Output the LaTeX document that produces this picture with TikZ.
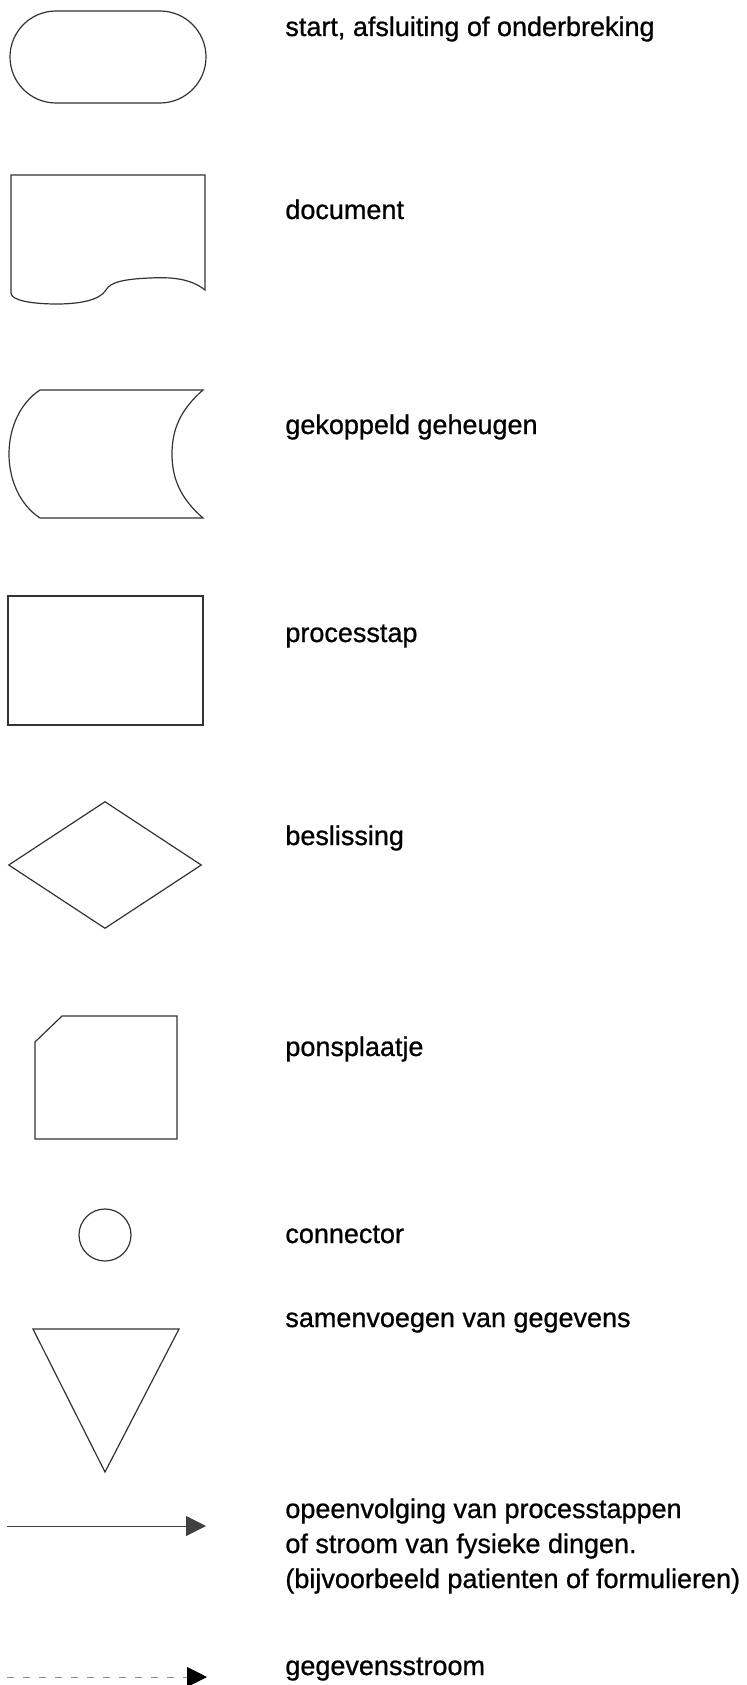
\documentclass[tikz,border=0pt]{standalone}
\usepackage{fontspec}
\setmainfont{Liberation Sans}
\newfontfamily\lblfont{Liberation Sans}[FakeBold=0.8]
\usetikzlibrary{arrows.meta,positioning,shapes.geometric,shapes.misc}
\tikzset{
	sym/.style={draw=black!80, line width=0.6pt},
	lbl/.style={anchor=base west, inner sep=0pt, font=\lblfont\fontsize{13.5}{17.5}\selectfont, align=left},
	flow/.style={-{Triangle[length=10pt, width=10pt]}, draw=black!75, line width=0.5pt},
	dataflow/.style={-{Triangle[length=10pt, width=10pt, color=black]}, draw=black!45, line width=0.5pt, dash pattern=on 3.5pt off 4.5pt}
}

\begin{document}
\begin{tikzpicture}[x=0.5pt, y=-0.5pt]
	\useasboundingbox (0,0) rectangle (746,1685);
	% symbols
	\node[sym, rounded rectangle, minimum width=98pt, minimum height=46pt, inner sep=0pt] (term) at (108,57) {};
	\draw[sym] (11,175) -- (205,175) -- (205,290)
		.. controls (190,278) and (170,277) .. (150,278)
		.. controls (125,279) and (110,282) .. (106,290)
		.. controls (100,300) and (80,304) .. (57,304)
		.. controls (30,304) and (11,300) .. (11,293) -- cycle;
	\draw[sym] (40,390) -- (203,390)
		.. controls (180,410) and (172,430) .. (172,454)
		.. controls (172,478) and (180,498) .. (203,518)
		-- (40,518)
		.. controls (20,505) and (9,480) .. (9,454)
		.. controls (9,428) and (20,403) .. (40,390) -- cycle;
	\node[sym, rectangle, minimum width=97.5pt, minimum height=64.5pt, inner sep=0pt] (proc) at (105.5,660.5) {};
	\node[sym, diamond, aspect=1.52, minimum width=96.5pt, minimum height=63.5pt, inner sep=0pt] (dec) at (105,865) {};
	\draw[sym] (62,1016) -- (177,1016) -- (177,1139) -- (35,1139) -- (35,1042) -- cycle;
	\node[sym, circle, minimum size=26pt, inner sep=0pt] (con) at (105,1235) {};
	\draw[sym] (33,1329) -- (179,1329) -- (105,1472) -- cycle;
	\coordinate (fa) at (7,1526);
	\coordinate (fb) at (206,1526);
	\draw[flow] (fa) -- (fb);
	\coordinate (da) at (7,1677);
	\coordinate (db) at (207,1677);
	\draw[dataflow] (da) -- (db);
	% labels
	\node[lbl] (termtxt) at (285,36) {start, afsluiting of onderbreking};
	\node[lbl] (doctxt) at (285,219) {document};
	\node[lbl] (memtxt) at (285,434) {gekoppeld geheugen};
	\node[lbl] (proctxt) at (285,642) {processtap};
	\node[lbl] (dectxt) at (285,845) {beslissing};
	\node[lbl] (cardtxt) at (285,1056) {ponsplaatje};
	\node[lbl] (contxt) at (285,1243) {connector};
	\node[lbl] (mergetxt) at (285,1327) {samenvoegen van gegevens};
	\node[lbl] (flowtxt) at (285,1588) {opeenvolging van processtappen\\of stroom van fysieke dingen.\\(bijvoorbeeld patienten of formulieren)};
	\node[lbl] (datatxt) at (285,1675) {gegevensstroom};
\end{tikzpicture}
\end{document}
